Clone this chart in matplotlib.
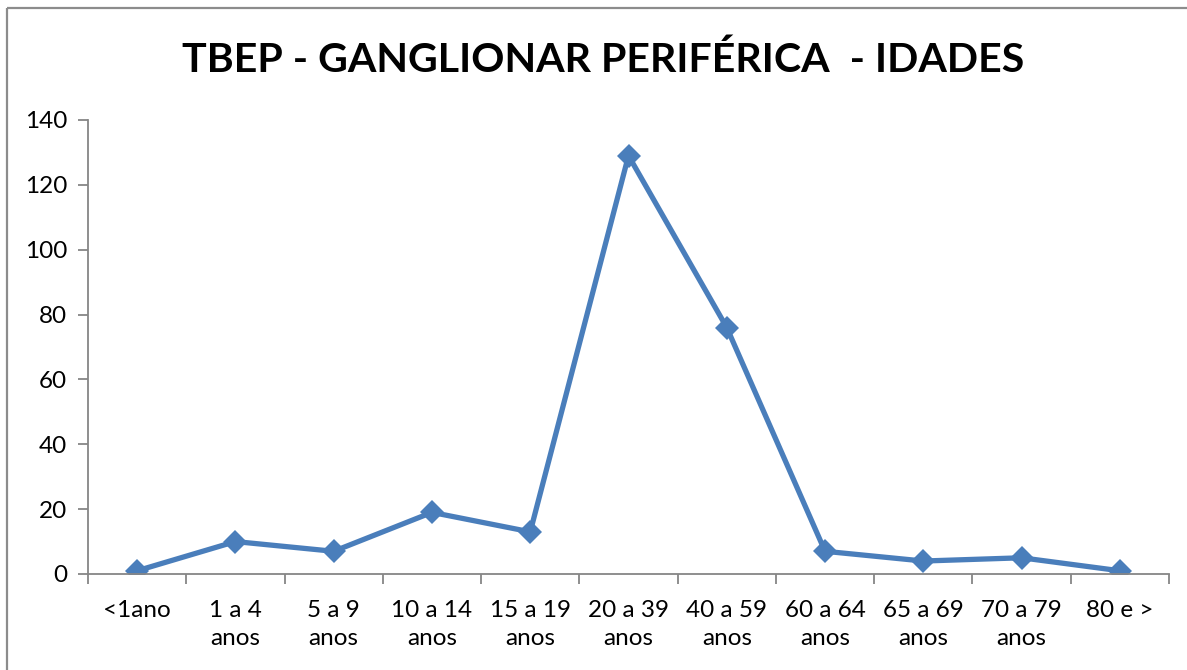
import matplotlib
matplotlib.use("Agg")
import matplotlib.pyplot as plt
from matplotlib.lines import Line2D
import numpy as np

# data
categorias = ["<1ano", "1 a 4\nanos", "5 a 9\nanos", "10 a 14\nanos", "15 a 19\nanos",
              "20 a 39\nanos", "40 a 59\nanos", "60 a 64\nanos", "65 a 69\nanos",
              "70 a 79\nanos", "80 e >"]
casos = [1, 10, 7, 19, 13, 129, 76, 7, 4, 5, 1]
y_ticks = [0, 20, 40, 60, 80, 100, 120, 140]

plt.rcParams['font.family'] = ['Lato', 'DejaVu Sans']

fig = plt.figure(figsize=(11.87, 6.70), dpi=100)
W, H = 1187, 670

# outer chart frame, only top and left edges are inside the picture
fx, fy = 6.5 / W, 1 - 7.5 / H
fig.add_artist(Line2D([fx, 1.0], [fy, fy], transform=fig.transFigure, color="#8c8c8c",
                      linewidth=1.6, solid_capstyle="butt"))
fig.add_artist(Line2D([fx, fx], [0, fy], transform=fig.transFigure, color="#8c8c8c",
                      linewidth=1.6, solid_capstyle="butt"))

ax = fig.add_axes([88 / W, (H - 574) / H, (1169 - 88) / W, (574 - 120) / H])

x = np.arange(len(categorias))
ax.plot(x, casos, color="#4a7ebb", linewidth=3.8, marker="D", markersize=12,
        markeredgewidth=0, solid_joinstyle="miter")

ax.set_xlim(-0.5, len(categorias) - 0.5)
ax.set_ylim(0, 140)
ax.set_yticks(y_ticks)
ax.set_xticks(x)
ax.set_xticklabels(categorias, fontsize=17.5, linespacing=1.4, va="top")
ax.set_xticks(np.arange(-0.5, len(categorias), 1), minor=True)
ax.tick_params(axis="x", which="major", length=0, pad=19)
ax.tick_params(axis="x", which="minor", length=7, width=1.3, color="#868686", direction="out")
ax.tick_params(axis="y", length=7, width=1.3, color="#868686", direction="out", labelsize=17.5, pad=8)

for s in ["top", "right"]:
    ax.spines[s].set_visible(False)
for s in ["left", "bottom"]:
    ax.spines[s].set_color("#868686")
    ax.spines[s].set_linewidth(1.3)

fig.text(603 / W, 1 - 60 / H, "TBEP - GANGLIONAR PERIFÉRICA  - IDADES", ha="center", va="center",
         fontsize=29.6, fontweight="bold")

fig.savefig("out.png", dpi=100)
